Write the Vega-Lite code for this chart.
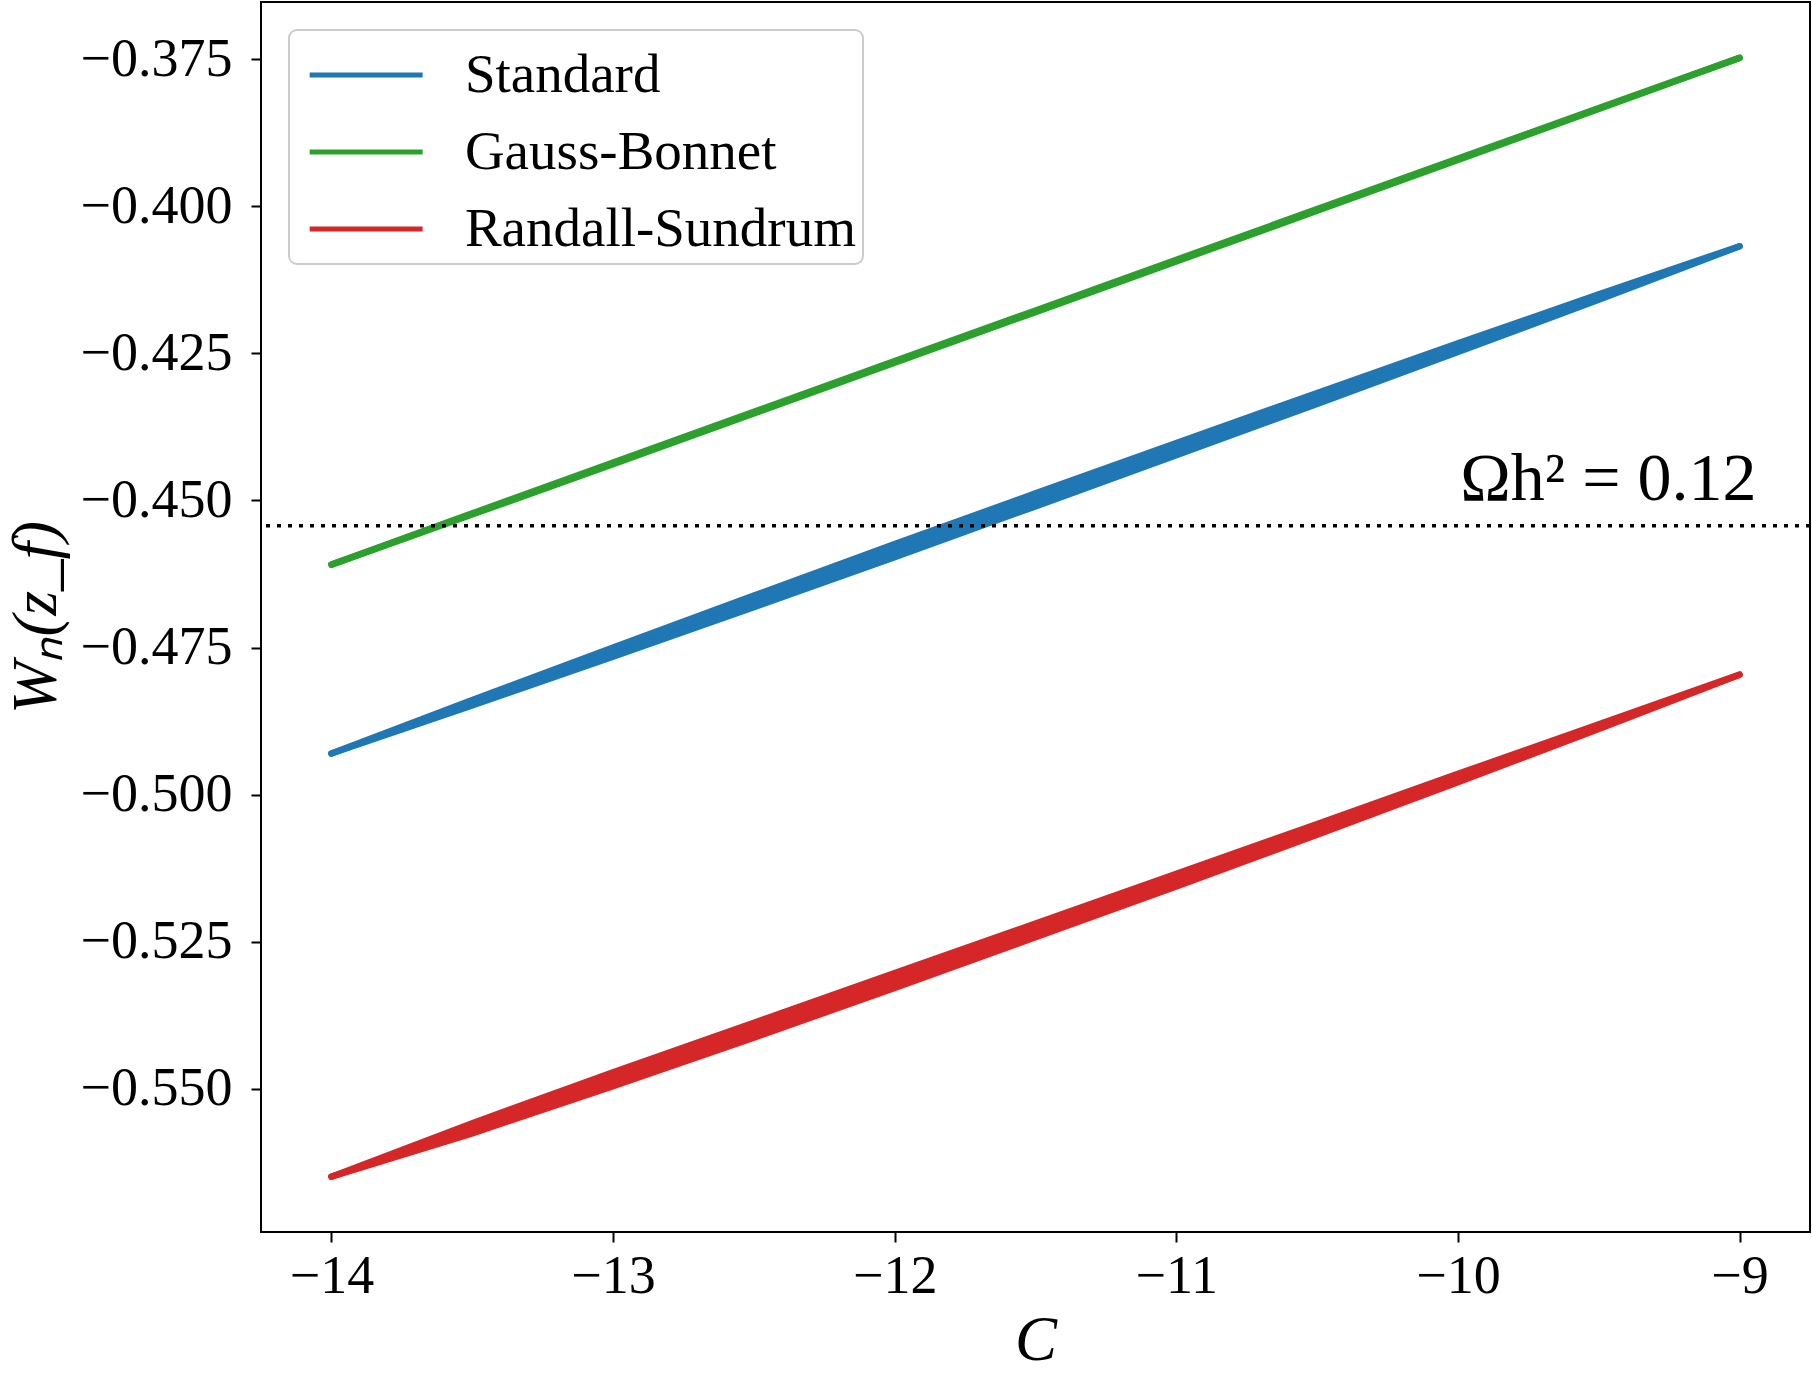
{
  "$schema": "https://vega.github.io/schema/vega-lite/v6.json",
  "width": 1549,
  "height": 1230,
  "autosize": {"type": "none"},
  "padding": {"left": 261, "top": 2, "right": 2, "bottom": 142},
  "background": "white",
  "config": {
    "font": "Liberation Serif",
    "view": {"stroke": "black", "strokeWidth": 2},
    "axis": {
      "grid": false,
      "domain": false,
      "tickColor": "black",
      "tickWidth": 2,
      "tickSize": 10,
      "labelColor": "black",
      "labelFont": "Liberation Serif",
      "labelFontSize": 54,
      "labelPadding": 7,
      "titleColor": "black",
      "titleFont": "Liberation Serif",
      "titleFontSize": 63,
      "titleFontStyle": "italic",
      "titleFontWeight": "normal"
    },
    "legend": {
      "title": null,
      "orient": "top-left",
      "offset": 28,
      "symbolType": "M-0.8,0H2.4",
      "symbolSize": 4984,
      "symbolStrokeWidth": 5,
      "symbolOffset": 3.9,
      "labelFont": "Liberation Serif",
      "labelFontSize": 55,
      "labelColor": "black",
      "labelLimit": 0,
      "labelOffset": 89,
      "labelExpr": "datum.label + '\u2800'",
      "rowPadding": 11,
      "padding": 7,
      "strokeColor": "#cccccc",
      "strokeWidth": 2,
      "cornerRadius": 8,
      "fillColor": "white"
    }
  },
  "datasets": {
    "bands": [
      {"series": "Standard", "C": -14, "lo": -0.49300, "hi": -0.49300},
      {"series": "Standard", "C": -13.5, "lo": -0.48484, "hi": -0.48392},
      {"series": "Standard", "C": -13, "lo": -0.47655, "hi": -0.47497},
      {"series": "Standard", "C": -12.5, "lo": -0.46812, "hi": -0.46616},
      {"series": "Standard", "C": -12, "lo": -0.45962, "hi": -0.45742},
      {"series": "Standard", "C": -11.5, "lo": -0.45100, "hi": -0.44880},
      {"series": "Standard", "C": -11, "lo": -0.44232, "hi": -0.44024},
      {"series": "Standard", "C": -10.5, "lo": -0.43358, "hi": -0.43174},
      {"series": "Standard", "C": -10, "lo": -0.42478, "hi": -0.42330},
      {"series": "Standard", "C": -9.5, "lo": -0.41588, "hi": -0.41496},
      {"series": "Standard", "C": -9, "lo": -0.40680, "hi": -0.40680},
      {"series": "Gauss-Bonnet", "C": -14, "lo": -0.46090, "hi": -0.46090},
      {"series": "Gauss-Bonnet", "C": -13.5, "lo": -0.45238, "hi": -0.45220},
      {"series": "Gauss-Bonnet", "C": -13, "lo": -0.44382, "hi": -0.44354},
      {"series": "Gauss-Bonnet", "C": -12.5, "lo": -0.43521, "hi": -0.43493},
      {"series": "Gauss-Bonnet", "C": -12, "lo": -0.42660, "hi": -0.42632},
      {"series": "Gauss-Bonnet", "C": -11.5, "lo": -0.41799, "hi": -0.41771},
      {"series": "Gauss-Bonnet", "C": -11, "lo": -0.40938, "hi": -0.40910},
      {"series": "Gauss-Bonnet", "C": -10.5, "lo": -0.40077, "hi": -0.40049},
      {"series": "Gauss-Bonnet", "C": -10, "lo": -0.39214, "hi": -0.39190},
      {"series": "Gauss-Bonnet", "C": -9.5, "lo": -0.38348, "hi": -0.38334},
      {"series": "Gauss-Bonnet", "C": -9, "lo": -0.37480, "hi": -0.37480},
      {"series": "Randall-Sundrum", "C": -14, "lo": -0.56490, "hi": -0.56490},
      {"series": "Randall-Sundrum", "C": -13.5, "lo": -0.55753, "hi": -0.55581},
      {"series": "Randall-Sundrum", "C": -13, "lo": -0.54951, "hi": -0.54717},
      {"series": "Randall-Sundrum", "C": -12.5, "lo": -0.54127, "hi": -0.53875},
      {"series": "Randall-Sundrum", "C": -12, "lo": -0.53284, "hi": -0.53032},
      {"series": "Randall-Sundrum", "C": -11.5, "lo": -0.52422, "hi": -0.52188},
      {"series": "Randall-Sundrum", "C": -11, "lo": -0.51559, "hi": -0.51345},
      {"series": "Randall-Sundrum", "C": -10.5, "lo": -0.50679, "hi": -0.50499},
      {"series": "Randall-Sundrum", "C": -10, "lo": -0.49786, "hi": -0.49646},
      {"series": "Randall-Sundrum", "C": -9.5, "lo": -0.48883, "hi": -0.48803},
      {"series": "Randall-Sundrum", "C": -9, "lo": -0.47960, "hi": -0.47960}
    ],
    "relic": [
      {"C": -8.94, "W": -0.4543, "label": "Ωh² = 0.12"}
    ]
  },
  "layer": [
    {
      "data": {"name": "bands"},
      "mark": {"type": "area", "opacity": 1},
      "encoding": {
        "x": {
          "field": "C",
          "type": "quantitative",
          "title": "C",
          "scale": {"domain": [-14.25, -8.75], "nice": false, "zero": false},
          "axis": {"values": [-14, -13, -12, -11, -10, -9], "format": "d", "titlePadding": 6}
        },
        "y": {
          "field": "lo",
          "type": "quantitative",
          "title": "Wₙ(z_f)",
          "scale": {"domain": [-0.5743, -0.3653], "nice": false, "zero": false},
          "axis": {
            "values": [-0.55, -0.525, -0.5, -0.475, -0.45, -0.425, -0.4, -0.375],
            "format": ".3f",
            "labelPadding": 19,
            "titlePadding": 12
          }
        },
        "y2": {"field": "hi"},
        "color": {
          "field": "series",
          "type": "nominal",
          "scale": {
            "domain": ["Standard", "Gauss-Bonnet", "Randall-Sundrum"],
            "range": ["#1f77b4", "#2ca02c", "#d62728"]
          }
        }
      }
    },
    {
      "data": {"name": "bands"},
      "mark": {"type": "line", "strokeWidth": 6.5, "strokeCap": "round"},
      "encoding": {
        "x": {"field": "C", "type": "quantitative"},
        "y": {"field": "hi", "type": "quantitative"},
        "color": {"field": "series", "type": "nominal"}
      }
    },
    {
      "data": {"name": "bands"},
      "mark": {"type": "line", "strokeWidth": 6.5, "strokeCap": "round"},
      "encoding": {
        "x": {"field": "C", "type": "quantitative"},
        "y": {"field": "lo", "type": "quantitative"},
        "color": {"field": "series", "type": "nominal"}
      }
    },
    {
      "data": {"name": "relic"},
      "mark": {"type": "rule", "color": "black", "strokeWidth": 3.5, "strokeDash": [4, 7]},
      "encoding": {"y": {"field": "W", "type": "quantitative"}}
    },
    {
      "data": {"name": "relic"},
      "mark": {
        "type": "text",
        "align": "right",
        "baseline": "alphabetic",
        "dy": -26,
        "font": "Liberation Serif",
        "fontSize": 68,
        "color": "black"
      },
      "encoding": {
        "x": {"field": "C", "type": "quantitative"},
        "y": {"field": "W", "type": "quantitative"},
        "text": {"field": "label"}
      }
    }
  ]
}
